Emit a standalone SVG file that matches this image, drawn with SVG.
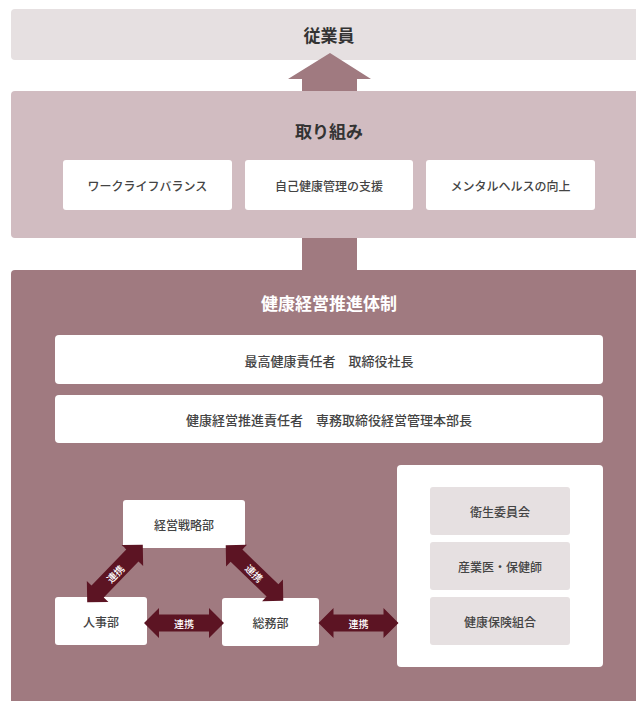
<svg xmlns="http://www.w3.org/2000/svg" width="636" height="701" viewBox="0 0 636 701">
<defs>
<style>
text{font-family:"Noto Sans CJK JP","Noto Sans",sans-serif;text-anchor:middle;dominant-baseline:central;}
.title{font-size:17px;font-weight:700;fill:#333;}
.wtitle{font-size:17px;font-weight:700;fill:#fff;}
.lbl{font-size:12px;font-weight:500;fill:#444;}
.lbl13{font-size:13px;font-weight:500;fill:#444;}
.link{font-size:10px;font-weight:500;fill:#fff;}
.wbox{fill:#fff;}
.gbox{fill:#e6e0e1;}
.darr{fill:#5c1423;}
</style>
<path id="dbl" d="M -40 0 L -25 -15 L -25 -8.5 L 25 -8.5 L 25 -15 L 40 0 L 25 15 L 25 8.5 L -25 8.5 L -25 15 Z"/>
</defs>
<rect width="636" height="701" fill="#fff"/>

<g id="employees">
<rect x="11" y="9" width="640" height="51" rx="4" fill="#e6e0e1"/>
<text class="title" x="329" y="34">従業員</text>
</g>

<g id="initiatives">
<rect x="11" y="91" width="640" height="147" rx="4" fill="#d1bcc1"/>
<text class="title" x="329" y="130">取り組み</text>
</g>
<g id="wlb"><rect class="wbox" x="63" y="160" width="169" height="50" rx="3"/><text class="lbl" x="147.5" y="185">ワークライフバランス</text></g>
<g id="selfcare"><rect class="wbox" x="245" y="160" width="168" height="50" rx="3"/><text class="lbl" x="329" y="185">自己健康管理の支援</text></g>
<g id="mental"><rect class="wbox" x="426" y="160" width="169" height="50" rx="3"/><text class="lbl" x="510.5" y="185">メンタルヘルスの向上</text></g>

<g id="system">
<rect x="11" y="270" width="640" height="440" rx="4" fill="#a07a80"/>
<text class="wtitle" x="329" y="302">健康経営推進体制</text>
</g>
<g id="cho"><rect class="wbox" x="55" y="335" width="548" height="49" rx="4"/><text class="lbl13" x="329" y="360">最高健康責任者　取締役社長</text></g>
<g id="promoter"><rect class="wbox" x="55" y="395" width="548" height="48" rx="4"/><text class="lbl13" x="329" y="419">健康経営推進責任者　専務取締役経営管理本部長</text></g>

<g id="strategy"><rect class="wbox" x="123" y="500" width="122" height="48" rx="3"/><text class="lbl" x="184" y="524">経営戦略部</text></g>
<g id="hr"><rect class="wbox" x="55" y="597" width="92" height="48" rx="3"/><text class="lbl" x="101" y="621">人事部</text></g>
<g id="general"><rect class="wbox" x="222" y="598" width="97" height="48" rx="3"/><text class="lbl" x="270.5" y="622">総務部</text></g>

<g id="partners">
<rect class="wbox" x="397" y="465" width="206" height="202" rx="4"/>
</g>
<g id="hygiene"><rect class="gbox" x="430" y="487" width="140" height="48" rx="3"/><text class="lbl" x="500" y="511">衛生委員会</text></g>
<g id="doctor"><rect class="gbox" x="430" y="542" width="140" height="48" rx="3"/><text class="lbl" x="500" y="566">産業医・保健師</text></g>
<g id="insurance"><rect class="gbox" x="430" y="597" width="140" height="48" rx="3"/><text class="lbl" x="500" y="621">健康保険組合</text></g>

<g id="connectors">
<path d="M 330 53 L 371 79 L 357 79 L 357 91 L 302 91 L 302 79 L 288 79 Z" fill="#a07a80"/>
<rect x="302" y="238" width="55" height="32" fill="#a07a80"/>
<use href="#dbl" class="darr" transform="translate(184 623)"/>
<text class="link" x="184" y="623">連携</text>
<use href="#dbl" class="darr" transform="translate(358.5 623)"/>
<text class="link" x="358.5" y="623">連携</text>
<use href="#dbl" class="darr" transform="translate(115 573.5) rotate(-46)"/>
<text class="link" transform="translate(115 573.5) rotate(-46)">連携</text>
<use href="#dbl" class="darr" transform="translate(254.5 573) rotate(44)"/>
<text class="link" transform="translate(254.5 573) rotate(44)">連携</text>
</g>
</svg>
